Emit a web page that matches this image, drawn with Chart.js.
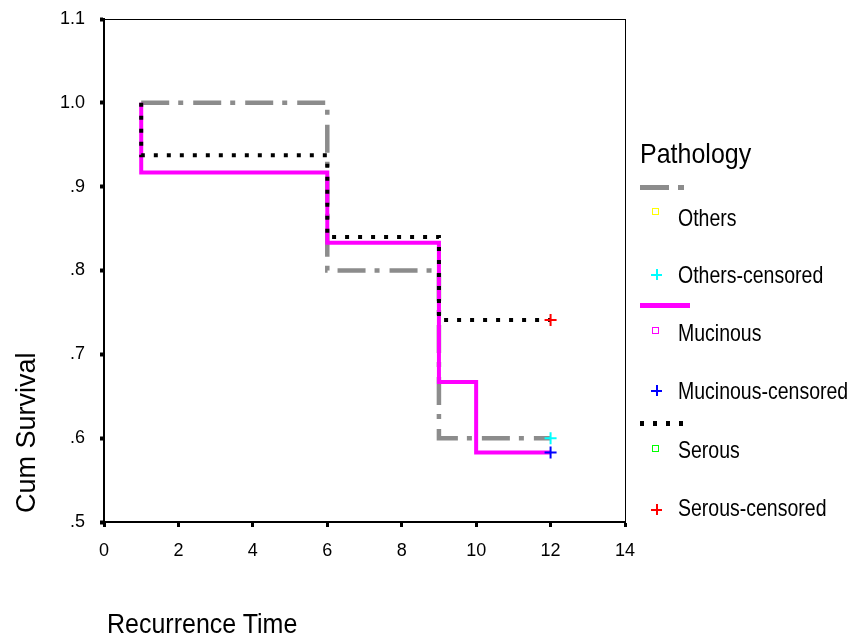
<!DOCTYPE html>
<html>
<head>
<meta charset="utf-8">
<script src="https://cdn.jsdelivr.net/npm/chart.js@4/dist/chart.umd.min.js"></script>
<style>
  body { margin: 0; background: #fff; font-family: "Liberation Sans", Arial, sans-serif; }
  #wrap { position: relative; width: 858px; height: 639px; overflow: hidden; }
  #chart { position: absolute; left: 0; top: 0; }
  .txt { position: absolute; white-space: nowrap; color: #000; line-height: 1; transform-origin: 0 0; }
  .mark { position: absolute; }
  .sq { position: absolute; width: 5px; height: 5px; border: 1.5px solid; }
  .cross { position: absolute; width: 11px; height: 11px; }
  .cross::before, .cross::after { content: ''; position: absolute; background: currentColor; }
  .cross::before { left: 4.5px; top: 0; width: 2px; height: 11px; }
  .cross::after { left: 0; top: 4.5px; width: 11px; height: 2px; }
</style>
</head>
<body>
<div id="wrap">
  <canvas id="chart" width="858" height="639"></canvas>
  <div id="legend"></div>
</div>
<script>
// ticks
const xTicks = [0, 2, 4, 6, 8, 10, 12, 14];
const yTicks = [0.5, 0.6, 0.7, 0.8, 0.9, 1.0, 1.1];
const yTickLabels = ['.5', '.6', '.7', '.8', '.9', '1.0', '1.1'];

// survival steps (time, cum survival)
const othersTime = [1, 6, 9, 12];
const othersSurv = [1.0, 0.8, 0.6, 0.6];
const mucinousTime = [1, 1, 6, 9, 10, 12];
const mucinousSurv = [1.0, 0.917, 0.833, 0.667, 0.583, 0.583];
const serousTime = [1, 1, 6, 9, 12];
const serousSurv = [1.0, 0.9375, 0.84, 0.741, 0.741];

// censored marks
const censorTime = [12];
const othersCensored = [0.6];
const mucinousCensored = [0.583];
const serousCensored = [0.741];

const legendTitle = 'Pathology';
const legendLabels = ['Others', 'Others-censored', 'Mucinous', 'Mucinous-censored', 'Serous', 'Serous-censored'];

const FONT = '"Liberation Sans", Arial, sans-serif';
const pts = (xs, ys) => xs.map((x, i) => ({ x: x, y: ys[i] }));

function stepLine(label, xs, ys, color, width, dash, order) {
    return {
        label: label,
        data: pts(xs, ys),
        borderColor: color,
        borderWidth: width,
        borderDash: dash,
        borderCapStyle: 'butt',
        borderJoinStyle: 'miter',
        stepped: 'before',
        pointRadius: 0,
        fill: false,
        order: order
    };
}

function censorMarks(label, ys, color) {
    return {
        label: label,
        data: pts(censorTime, ys),
        showLine: false,
        pointStyle: 'cross',
        pointRadius: 6,
        pointBorderWidth: 2,
        pointBorderColor: color,
        pointBackgroundColor: color,
        order: 0
    };
}

const frame = {
    id: 'frame',
    beforeDatasetsDraw(chart) {
        const a = chart.chartArea;
        const ctx = chart.ctx;
        ctx.save();
        ctx.strokeStyle = '#000';
        ctx.lineWidth = 1;
        ctx.strokeRect(a.left + 0.5, a.top + 0.5, a.right - a.left, a.bottom - a.top);
        ctx.restore();
    }
};

new Chart(document.getElementById('chart'), {
    type: 'line',
    data: {
        datasets: [
            censorMarks('Others-censored', othersCensored, '#00ffff'),
            censorMarks('Mucinous-censored', mucinousCensored, '#0000ff'),
            censorMarks('Serous-censored', serousCensored, '#ff0000'),
            stepLine('Serous', serousTime, serousSurv, '#000000', 4, [4, 9], 1),
            stepLine('Mucinous', mucinousTime, mucinousSurv, '#ff00ff', 4, [], 2),
            stepLine('Others', othersTime, othersSurv, '#8c8c8c', 4.5, [28, 9, 5, 10], 3)
        ]
    },
    options: {
        responsive: false,
        animation: false,
        events: [],
        layout: { padding: { top: 19, right: 233, bottom: 0, left: 0 } },
        plugins: { legend: { display: false }, tooltip: { enabled: false } },
        scales: {
            x: {
                type: 'linear',
                min: 0,
                max: 14,
                afterBuildTicks: s => { s.ticks = xTicks.map(v => ({ value: v })); },
                ticks: { color: '#000', padding: 15, maxRotation: 0, font: { family: FONT, size: 18, lineHeight: 1 }, callback: v => String(v) },
                grid: { drawOnChartArea: false, tickLength: 5, tickWidth: 3, tickColor: '#000' },
                border: { display: true, color: '#000', width: 2 },
                afterFit: s => { s.height = 117; s.paddingLeft = 0; s.paddingRight = 0; }
            },
            y: {
                type: 'linear',
                min: 0.5,
                max: 1.1,
                afterBuildTicks: s => { s.ticks = yTicks.map(v => ({ value: v })); },
                ticks: { color: '#000', padding: 15, font: { family: FONT, size: 18, lineHeight: 1 }, callback: (v, i) => yTickLabels[i] },
                grid: { drawOnChartArea: false, tickLength: 4, tickWidth: 4, tickColor: '#000' },
                border: { display: true, color: '#000', width: 2 },
                afterFit: s => { s.width = 104; s.paddingTop = 0; s.paddingBottom = 0; }
            }
        }
    },
    plugins: [frame]
});

// legend and axis titles as html text
const host = document.getElementById('legend');

function addText(text, left, top, size, sy, extra) {
    const d = document.createElement('div');
    d.className = 'txt';
    d.textContent = text;
    d.style.left = left + 'px';
    d.style.top = top + 'px';
    d.style.fontSize = size + 'px';
    d.style.transform = extra || ('scaleY(' + sy + ')');
    host.appendChild(d);
}

function addBox(cls, left, top, w, h, bg, color) {
    const d = document.createElement('div');
    d.className = cls;
    d.style.left = left + 'px';
    d.style.top = top + 'px';
    if (w) d.style.width = w + 'px';
    if (h) d.style.height = h + 'px';
    if (bg) d.style.background = bg;
    if (color) { d.style.color = color; d.style.borderColor = color; }
    host.appendChild(d);
}

addText('Recurrence Time', 107, 609, 25, 1.12);
addText('Cum Survival', 12.5, 513, 27, 1, 'rotate(-90deg)');
addText(legendTitle, 640, 138.5, 25, 1.12);

// line samples
addBox('mark', 640, 185, 29, 5, '#8c8c8c');
addBox('mark', 678, 185, 6, 5, '#8c8c8c');
addBox('mark', 640, 303, 50, 5, '#ff00ff');
addBox('mark', 640, 421, 44, 5, 'repeating-linear-gradient(90deg, #000 0 4px, transparent 4px 13px)');

// markers
addBox('sq', 652, 208, 0, 0, null, '#ffff00');
addBox('cross', 651, 269, 0, 0, null, '#00ffff');
addBox('sq', 652, 327, 0, 0, null, '#ff00ff');
addBox('cross', 651, 385, 0, 0, null, '#0000ff');
addBox('sq', 652, 445, 0, 0, null, '#00ff00');
addBox('cross', 651, 504, 0, 0, null, '#ff0000');

const labelCapTops = [210, 267, 325, 383, 442, 500];
legendLabels.forEach((t, i) => addText(t, 678, labelCapTops[i] - 3, 19.5, 1.2));
</script>
</body>
</html>
